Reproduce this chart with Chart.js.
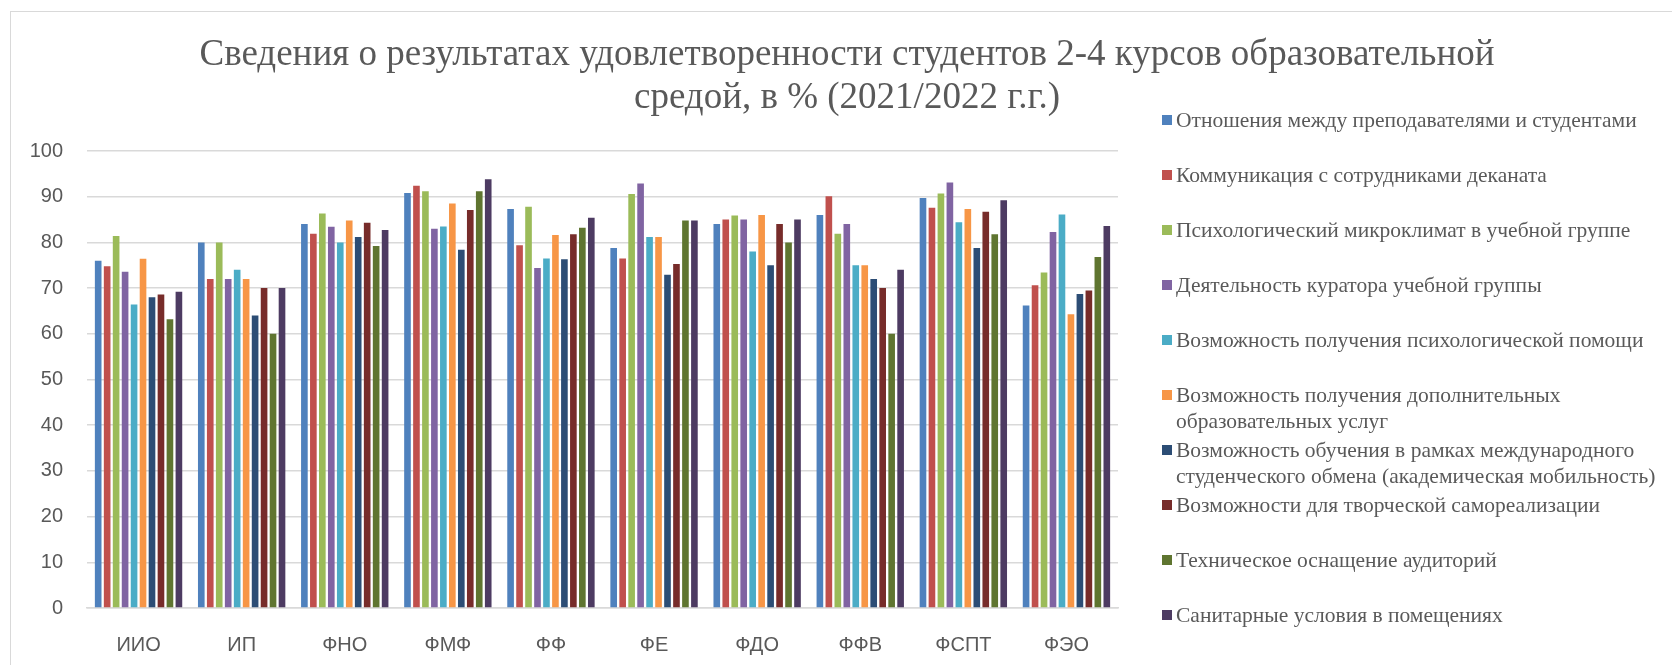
<!DOCTYPE html>
<html lang="ru">
<head>
<meta charset="utf-8">
<script src="https://cdn.jsdelivr.net/npm/chart.js@4"></script>
<style>
  body { margin: 0; background: #fff; }
  #wrap { position: relative; width: 1672px; height: 665px; overflow: hidden; }
  #frame { position: absolute; left: 10px; top: 11px; width: 1800px; height: 800px; border-left: 1.5px solid #d9d9d9; border-top: 1.5px solid #d9d9d9; }
  #title {
    position: absolute; left: 97px; width: 1500px; top: 31px;
    font-family: "Liberation Serif", serif; font-size: 37px; line-height: 43px;
    color: #595959; text-align: center; white-space: nowrap;
  }
  #legend { position: absolute; left: 1162px; top: 0; }
  .item { position: absolute; left: 0; width: 510px; font-family: "Liberation Serif", serif; font-size: 21.5px; line-height: 26px; color: #595959; }
  .item .box { position: absolute; left: 0; top: 8px; width: 10px; height: 10px; }
  .item .txt { position: absolute; left: 14px; top: 0; width: 490px; }
  canvas { position: absolute; left: 0; top: 0; }
</style>
</head>
<body>
<div id="wrap">
  <div id="frame"></div>
  <canvas id="barChart" width="1672" height="665"></canvas>
  <div id="title">Сведения о результатах удовлетворенности студентов 2-4 курсов образовательной<br>средой, в % (2021/2022 г.г.)</div>
  <div id="legend"></div>
</div>
<script>
const faculties = ["ИИО", "ИП", "ФНО", "ФМФ", "ФФ", "ФЕ", "ФДО", "ФФВ", "ФСПТ", "ФЭО"];

const seriesNames = [
  "Отношения между преподавателями и студентами",
  "Коммуникация с сотрудниками деканата",
  "Психологический микроклимат в учебной группе",
  "Деятельность куратора учебной группы",
  "Возможность получения психологической помощи",
  "Возможность получения дополнительных образовательных услуг",
  "Возможность обучения в рамках международного студенческого обмена (академическая мобильность)",
  "Возможности для творческой самореализации",
  "Техническое оснащение аудиторий",
  "Санитарные условия в помещениях"
];

const relations    = [76, 80, 84, 90.8, 87.3, 78.8, 84, 86, 89.7, 66.2];
const deanery      = [74.8, 72, 81.9, 92.4, 79.4, 76.5, 85, 90.1, 87.6, 70.6];
const microclimate = [81.4, 80, 86.3, 91.2, 87.8, 90.6, 85.9, 81.9, 90.7, 73.4];
const curator      = [73.6, 72, 83.4, 83, 74.4, 92.9, 85, 84, 93.1, 82.3];
const psychHelp    = [66.4, 74, 80, 83.5, 76.5, 81.2, 78, 75, 84.4, 86.1];
const extraEdu     = [76.4, 72, 84.8, 88.5, 81.6, 81.2, 86, 75, 87.3, 64.3];
const mobility     = [68, 64, 81.2, 78.4, 76.3, 72.9, 75, 72, 78.8, 68.7];
const creativity   = [68.6, 70, 84.3, 87.1, 81.8, 75.3, 84, 70, 86.7, 69.5];
const equipment    = [63.2, 60, 79.2, 91.2, 83.2, 84.8, 80, 60, 81.8, 76.8];
const sanitary     = [69.2, 70, 82.7, 93.8, 85.4, 84.8, 85, 74, 89.2, 83.6];

const yTicks = [0, 10, 20, 30, 40, 50, 60, 70, 80, 90, 100];

const seriesValues = [relations, deanery, microclimate, curator, psychHelp, extraEdu, mobility, creativity, equipment, sanitary];
const colors = ["#4F81BD", "#C0504D", "#9BBB59", "#8064A2", "#4BACC6", "#F79646", "#2C4D75", "#772C2A", "#5F7530", "#4D3B62"];

const gray = "#595959";
const gridColor = "#d9d9d9";

const chart = new Chart(document.getElementById("barChart").getContext("2d"), {
  type: "bar",
  data: {
    labels: faculties,
    datasets: seriesNames.map((name, i) => ({
      label: name,
      data: seriesValues[i],
      backgroundColor: colors[i],
      borderWidth: 0,
      barPercentage: 0.74,
      categoryPercentage: 0.87,
    })),
  },
  options: {
    responsive: false,
    devicePixelRatio: 1,
    animation: false,
    layout: { padding: { left: 0, right: 554, top: 151, bottom: 0 } },
    plugins: {
      legend: { display: false },
      title: { display: false },
      tooltip: { enabled: false },
    },
    scales: {
      x: {
        grid: { display: false, drawTicks: false },
        border: { display: true, color: gridColor, width: 1.5 },
        ticks: {
          color: gray,
          padding: 25,
          font: { family: "'Liberation Sans', Arial, sans-serif", size: 20 },
        },
        afterFit: (s) => { s.height = 57; },
      },
      y: {
        min: 0,
        max: 100,
        afterBuildTicks: (s) => { s.ticks = yTicks.map((v) => ({ value: v })); },
        grid: { color: gridColor, lineWidth: 1.5, drawTicks: false },
        border: { display: false },
        ticks: {
          color: gray,
          padding: 24,
          font: { family: "'Liberation Sans', Arial, sans-serif", size: 20 },
        },
        afterFit: (s) => { s.width = 87; },
      },
    },
  },
});

// legend in the Excel layout: one slot of 55px per series, long names wrap
const legendEl = document.getElementById("legend");
chart.data.datasets.forEach((ds, i) => {
  const item = document.createElement("div");
  item.className = "item";
  item.style.top = 107 + i * 55 + "px";
  item.innerHTML = '<span class="box" style="background:' + ds.backgroundColor + '"></span><span class="txt"></span>';
  item.querySelector(".txt").textContent = ds.label;
  legendEl.appendChild(item);
});
</script>
</body>
</html>
